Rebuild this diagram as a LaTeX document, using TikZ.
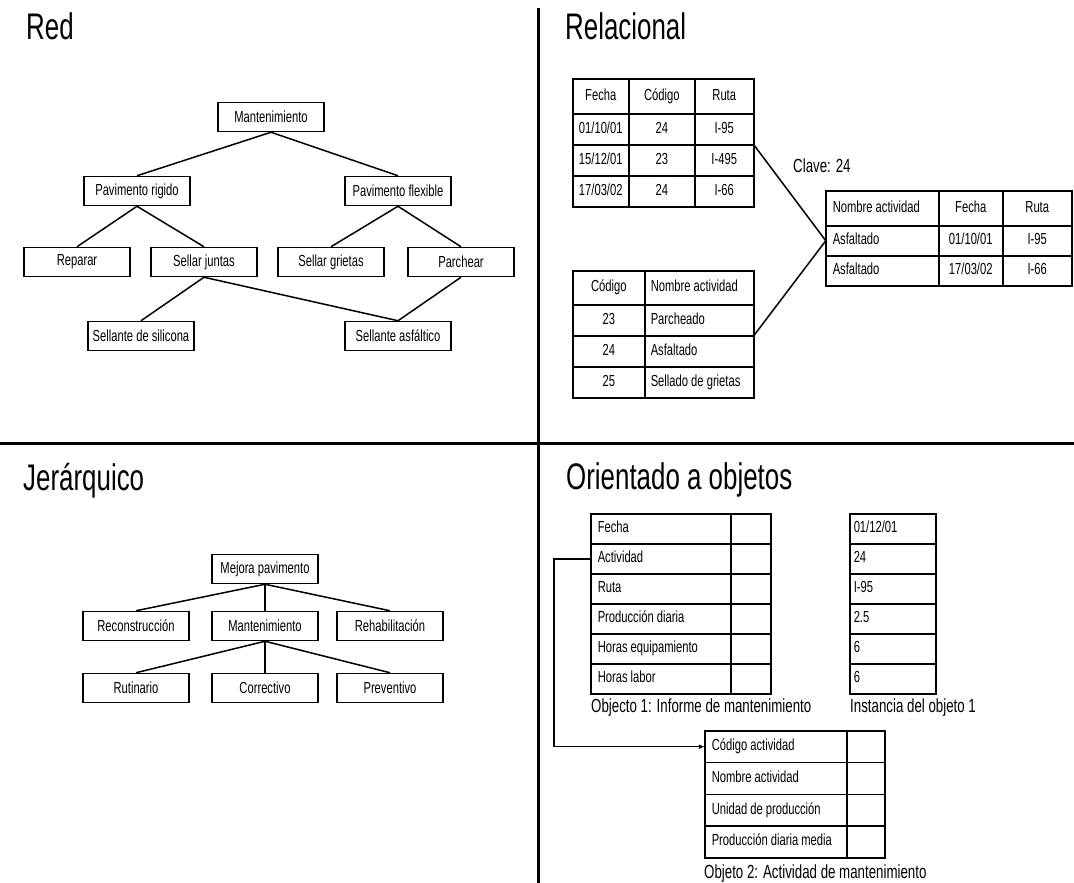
\documentclass[tikz,border=0pt]{standalone}
\usepackage{fontspec}
\usepackage{tikz}
\usetikzlibrary{positioning,matrix,arrows.meta}

\newfontfamily\narrowsans[FakeStretch=0.7]{Liberation Sans}
\newcommand{\cellfont}{\narrowsans\fontsize{16}{18}\selectfont}
\newcommand{\capfont}{\narrowsans\fontsize{19}{21}\selectfont}
\newcommand{\titlefont}{\narrowsans\fontsize{37}{40}\selectfont}

\tikzset{
	box/.style={draw, line width=1.5pt, minimum width=106pt, minimum height=29pt, inner sep=2pt, font=\cellfont},
	cell/.style={draw, line width=1.5pt, outer sep=0pt, inner sep=0pt, anchor=center, text height=11.5pt, text depth=3.5pt, font=\cellfont},
	lcell/.style={text width=#1, align=flush left},
	tbl/.style={matrix of nodes, nodes in empty cells, inner sep=0pt, outer sep=0pt, anchor=north west,
		column sep=-1.5pt, row sep=-1.5pt, nodes={cell, minimum height=31pt}},
	title/.style={anchor=base west, inner sep=0pt, font=\titlefont},
	caption/.style={anchor=west, inner sep=0pt, font=\capfont},
	conn/.style={line width=1.5pt},
	divider/.style={line width=3pt}
}

\begin{document}
\begin{tikzpicture}[x=1pt,y=-1pt]
	\useasboundingbox (0,0) rectangle (1074,883);
	\draw[divider] (538,8) -- (538,883);
	\draw[divider] (0,443) -- (1074,443);

	\node[title] (red) at (26,40) {Red};
	\node[title] (relacional) at (565,40) {Relacional};
	\node[title] (jerarquico) at (23,490) {Jerárquico};
	\node[title] (objetos) at (566,489) {Orientado a objetos};

	% Red
	\node[box] (mant) at (271,117) {Mantenimiento};
	\node[box] (rigido) at (137,191) {Pavimento rigido};
	\node[box] (flexible) at (398,191) {Pavimento flexible};
	\node[box] (reparar) at (77,262) {Reparar};
	\node[box] (juntas) at (204,262) {Sellar juntas};
	\node[box] (grietas) at (331,262) {Sellar grietas};
	\node[box] (parchear) at (461,262) {Parchear};
	\node[box] (silicona) at (141,336) {Sellante de silicona};
	\node[box] (asfaltico) at (398,336) {Sellante asfáltico};
	\path[conn]
		(mant.south)
		edge (rigido.north)
		edge (flexible.north)
		(rigido.south)
		edge (reparar.north)
		edge (juntas.north)
		(flexible.south)
		edge (grietas.north)
		edge (parchear.north)
		(juntas.south)
		edge (silicona.north)
		edge (asfaltico.north)
		(parchear.south)
		edge (asfaltico.north);

	% Relacional
	\matrix[tbl, column 1/.style={nodes={minimum width=56pt}}, column 2/.style={nodes={minimum width=66pt}},
		column 3/.style={nodes={minimum width=59pt}}, row 1/.style={nodes={minimum height=35pt}}] (t1) at (572,78) {
		Fecha & Código & Ruta \\
		01/10/01 & 24 & I-95 \\
		15/12/01 & 23 & I-495 \\
		17/03/02 & 24 & I-66 \\
	};
	\matrix[tbl, column 1/.style={nodes={minimum width=72pt}},
		column 2/.style={nodes={lcell=97pt, inner xsep=6pt}},
		row 1/.style={nodes={minimum height=34pt}}] (t2) at (572,270) {
		Código & Nombre actividad \\
		23 & Parcheado \\
		24 & Asfaltado \\
		25 & Sellado de grietas \\
	};
	\matrix[tbl, nodes={minimum height=30pt}, column 1/.style={nodes={lcell=99pt, inner xsep=7pt}},
		column 2/.style={nodes={minimum width=64pt}}, column 3/.style={nodes={minimum width=69pt}},
		row 1/.style={nodes={minimum height=35pt}}] (t3) at (825,190) {
		Nombre actividad & Fecha & Ruta \\
		Asfaltado & 01/10/01 & I-95 \\
		Asfaltado & 17/03/02 & I-66 \\
	};
	\node[caption] (clave) at (793,166) {Clave: 24};
	\draw[conn] (t1-2-3.south east) -- (t3-2-1.west) -- (t2-2-2.south east);

	% Jerarquico
	\begin{scope}[on grid]
		\node[box] (mejora) at (265,569) {Mejora pavimento};
		\node[box] (jmant) [below=57pt of mejora] {Mantenimiento};
		\node[box] (recon) [left=129pt of jmant] {Reconstrucción};
		\node[box] (rehab) [right=125pt of jmant] {Rehabilitación};
		\node[box] (rutin) [below=62pt of recon] {Rutinario};
		\node[box] (correct) [below=62pt of jmant] {Correctivo};
		\node[box] (prevent) [below=62pt of rehab] {Preventivo};
	\end{scope}
	\path[conn]
		(mejora.south)
		edge (recon.north)
		edge (jmant.north)
		edge (rehab.north)
		(jmant.south)
		edge (rutin.north)
		edge (correct.north)
		edge (prevent.north);

	% Orientado a objetos
	\matrix[tbl, nodes={minimum height=30pt}, column 1/.style={nodes={lcell=126pt, inner xsep=7pt}},
		column 2/.style={nodes={minimum width=40pt}}] (obj1) at (590,513) {
		Fecha & \\
		Actividad & \\
		Ruta & \\
		Producción diaria & \\
		Horas equipamiento & \\
		Horas labor & \\
	};
	\matrix[tbl, nodes={minimum height=30pt, lcell=78pt, inner xsep=4pt}] (inst) at (849,513) {
		01/12/01 \\
		24 \\
		I-95 \\
		2.5 \\
		6 \\
		6 \\
	};
	\matrix[tbl, nodes={minimum height=31.75pt}, column 1/.style={nodes={lcell=128pt, inner xsep=7pt}},
		column 2/.style={nodes={minimum width=38pt}}] (obj2) at (704,730) {
		Código actividad & \\
		Nombre actividad & \\
		Unidad de producción & \\
		Producción diaria media & \\
	};
	\node[caption] (cap1) at (591,708) {Objecto 1: Informe de mantenimiento};
	\node[caption] (capinst) at (850,708) {Instancia del objeto 1};
	\node[caption] (cap2) at (704,874) {Objeto 2: Actividad de mantenimiento};
	\draw[conn, -{Latex[length=6pt,width=5pt]}] (obj1-2-1.west) -- ++(-37,0) |- (obj2-1-1.west);
\end{tikzpicture}
\end{document}
